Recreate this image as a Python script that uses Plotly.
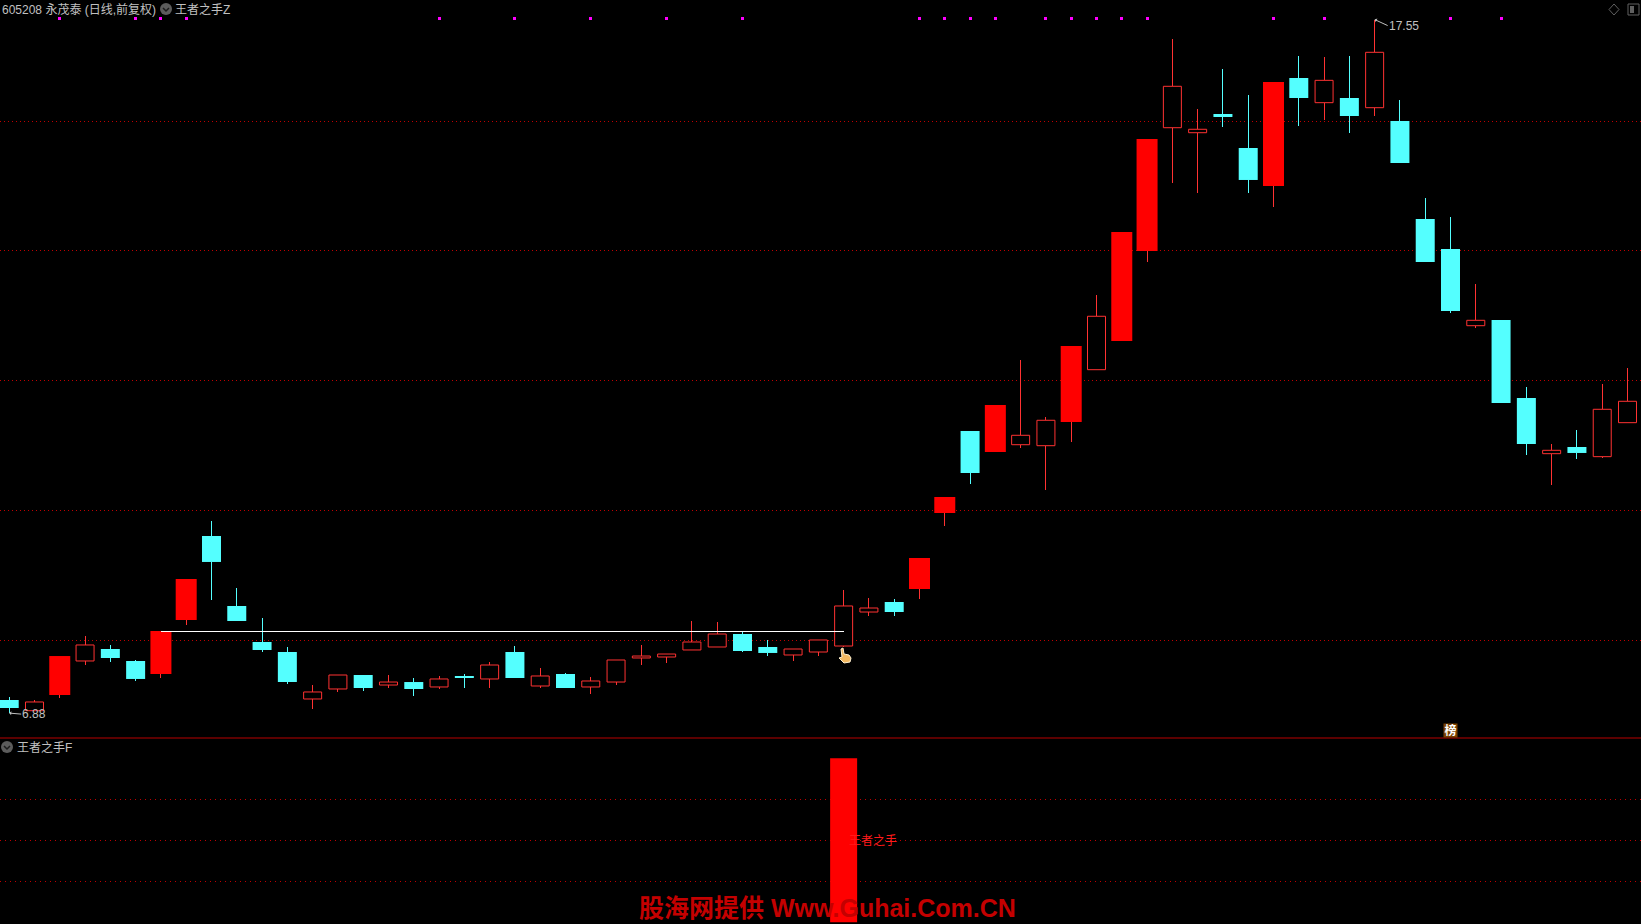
import plotly.graph_objects as go

# ---------- data ----------
opens = [7.082,6.917,7.158,7.682,7.866,7.682,7.482,8.312,9.605,8.528,
         7.974,7.820,7.097,7.251,7.466,7.312,7.358,7.282,7.451,7.405,
         7.820,7.297,7.482,7.282,7.358,7.728,7.743,7.851,7.897,8.097,
         7.897,7.774,7.820,7.912,8.435,8.589,8.789,9.958,11.220,10.897,
         11.009,10.994,11.358,12.163,12.605,13.989,15.886,15.809,16.097,15.574,
         14.989,16.651,16.271,16.343,16.194,15.989,14.482,14.020,12.840,12.928,
         11.728,10.871,10.974,10.825,11.348]
closes = [6.958,7.051,7.758,7.928,7.728,7.405,8.143,8.943,9.205,8.297,
          7.851,7.358,7.205,7.466,7.266,7.358,7.251,7.405,7.435,7.620,
          7.420,7.451,7.266,7.374,7.697,7.758,7.789,7.974,8.097,7.835,
          7.805,7.866,8.005,8.528,8.497,8.435,9.266,10.205,10.574,11.620,
          11.154,11.385,12.528,12.985,14.282,15.712,16.523,15.862,16.051,15.082,
          16.589,16.343,16.615,16.066,17.046,15.343,13.820,13.066,12.923,11.651,
          11.020,10.923,10.882,11.554,11.677]
highs = [7.128,7.082,7.758,8.066,7.928,7.697,8.143,8.943,9.835,8.805,
         8.343,7.897,7.312,7.466,7.466,7.466,7.420,7.451,7.482,7.666,
         7.912,7.574,7.497,7.435,7.697,7.928,7.789,8.297,8.282,8.143,
         8.005,7.866,8.005,8.774,8.651,8.635,9.266,10.205,11.220,11.620,
         12.312,11.435,12.528,13.312,14.282,15.712,17.251,16.174,16.789,16.389,
         16.589,16.989,16.974,16.989,17.550,16.312,14.805,14.512,13.482,12.928,
         11.897,11.020,11.235,11.943,12.189]
lows = [6.880,6.912,7.112,7.620,7.666,7.374,7.420,8.235,8.620,8.297,
        7.820,7.328,6.943,7.205,7.220,7.266,7.143,7.251,7.266,7.266,
        7.420,7.266,7.266,7.174,7.312,7.620,7.651,7.851,7.897,7.820,
        7.758,7.682,7.758,7.897,8.374,8.374,8.635,9.758,10.405,10.897,
        10.963,10.312,11.051,12.158,12.605,13.820,15.035,14.882,15.897,14.882,
        14.666,15.912,16.005,15.805,16.066,15.343,13.820,13.035,12.805,11.651,
        10.851,10.389,10.789,10.805,11.348]
filled_red_days = [2,6,7,36,37,39,42,44,45,50]
signal_days = [2,5,6,7,17,20,23,26,29,36,37,38,39,41,42,43,44,45,50,52,57,59]
signal_level = 17.57
resistance_days = [6,33]
resistance_level = 8.138
indicator_day = [33]
indicator_value = [100]
price_ticks = [8,10,12,14,15.985]
indicator_ticks = [25,50,75]
high_label, low_label = "17.55", "6.88"

# ---------- styling ----------
W, H = 1641, 924
SPLIT = 738
STEP = 25.286
RED, HOLLOW, CYAN = "#ff0000", "#ff3232", "#54ffff"
GRID = "#c00000"
GRAY = "#c0c0c0"
FONT = "Liberation Sans, Noto Sans CJK SC, sans-serif"
days = list(range(len(opens)))
px = lambda x: x / W
py = lambda y: 1 - y / H

groups = {"cyan": [], "filled": [], "hollow": []}
for d in days:
    if closes[d] < opens[d]:
        groups["cyan"].append(d)
    elif d in filled_red_days:
        groups["filled"].append(d)
    else:
        groups["hollow"].append(d)

def body(idx, fill, width, line_color=None):
    return go.Bar(
        x=idx,
        y=[abs(closes[d] - opens[d]) for d in idx],
        base=[min(opens[d], closes[d]) for d in idx],
        width=width / STEP,
        marker=dict(color=fill, line=dict(color=line_color or fill, width=1 if line_color else 0)),
        xaxis="x", yaxis="y", showlegend=False, hoverinfo="skip",
    )

def wicks(idx, color):
    xs, ys = [], []
    for d in idx:
        top, bot = max(opens[d], closes[d]), min(opens[d], closes[d])
        xs += [d, d, None, d, d, None]
        ys += [highs[d], top, None, bot, lows[d], None]
    return go.Scatter(x=xs, y=ys, mode="lines", line=dict(color=color, width=1),
                      xaxis="x", yaxis="y", showlegend=False, hoverinfo="skip")

fig = go.Figure()
fig.add_trace(body(groups["cyan"], CYAN, 19))
fig.add_trace(body(groups["filled"], RED, 21))
fig.add_trace(body(groups["hollow"], "#000000", 18, HOLLOW))
fig.add_trace(wicks(groups["cyan"], CYAN))
fig.add_trace(wicks(groups["filled"] + groups["hollow"], HOLLOW))
fig.add_trace(go.Scatter(x=resistance_days, y=[resistance_level] * 2, mode="lines",
                         line=dict(color="#ffffff", width=1), showlegend=False, hoverinfo="skip"))
fig.add_trace(go.Scatter(x=signal_days, y=[signal_level] * len(signal_days), mode="markers",
                         marker=dict(color="#ff00ff", size=3, symbol="square", line=dict(width=0)),
                         showlegend=False, hoverinfo="skip"))
fig.add_trace(go.Bar(x=indicator_day, y=indicator_value, width=27 / STEP,
                     marker=dict(color=RED, line=dict(width=0)),
                     xaxis="x2", yaxis="y2", showlegend=False, hoverinfo="skip"))

def label(x, y, text, color=GRAY, size=12, anchor="left", **kw):
    return dict(x=px(x), y=py(y), xref="paper", yref="paper", text=text, showarrow=False,
                xanchor=anchor, yanchor="middle", font=dict(family=FONT, size=size, color=color),
                borderpad=0, borderwidth=0, **kw)

def chevron(cx, cy):
    return [
        dict(type="circle", xref="paper", yref="paper", x0=px(cx - 6), x1=px(cx + 6),
             y0=py(cy + 6), y1=py(cy - 6), fillcolor="#5c5c5c", line=dict(width=0)),
        dict(type="path", xref="paper", yref="paper", line=dict(color="#1c1c1c", width=1.5),
             path=f"M{px(cx-3)} {py(cy-1)} L{px(cx)} {py(cy+2)} L{px(cx+3)} {py(cy-1)}"),
    ]

def poly(points):
    return "M" + " L".join(f"{px(x)} {py(y)}" for x, y in points) + " Z"

shapes = [
    dict(type="line", xref="paper", yref="paper", x0=0, x1=1, y0=py(SPLIT), y1=py(SPLIT),
         line=dict(color="#b80000", width=1)),
    *chevron(166, 9),
    *chevron(7, 747),
    dict(type="path", xref="paper", yref="paper", line=dict(color="#606060", width=1),
         path=poly([(1614, 4), (1619, 9.5), (1614, 15), (1609, 9.5)])),
    dict(type="rect", xref="paper", yref="paper", x0=px(1628), x1=px(1639), y0=py(15), y1=py(4),
         line=dict(color="#606060", width=1)),
    dict(type="rect", xref="paper", yref="paper", x0=px(1630), x1=px(1634), y0=py(13), y1=py(6),
         fillcolor="#606060", line=dict(width=0)),
    dict(type="path", xref="paper", yref="paper", fillcolor="#f4b860", line=dict(color="#fff0d0", width=1),
         path=poly([(841, 649), (843, 648), (844, 654), (849, 655), (851, 658), (850, 662),
                    (844, 663), (839, 658), (842, 657)])),
]

annotations = [
    label(2, 9.5, "605208 永茂泰 (日线,前复权)"),
    label(175, 9.5, "王者之手Z"),
    label(16.5, 747.5, "王者之手F"),
    label(849, 840.5, "王者之手", color="#ff1a1a"),
    dict(x=0, y=lows[0], xref="x", yref="y", text=low_label, showarrow=True, ax=12, ay=1,
         arrowhead=1, arrowsize=0.7, arrowwidth=1, arrowcolor=GRAY, xanchor="left", standoff=0,
         font=dict(family=FONT, size=12, color=GRAY), borderpad=0),
    dict(x=highs.index(max(highs)), y=max(highs), xref="x", yref="y", text=high_label, showarrow=True,
         ax=13, ay=6, arrowhead=1, arrowsize=0.7, arrowwidth=1, arrowcolor=GRAY, xanchor="left",
         standoff=0, font=dict(family=FONT, size=12, color=GRAY), borderpad=0),
    dict(x=signal_days[-2], y=py(730.5), xref="x", yref="paper", text="<b>榜</b>", showarrow=False,
         font=dict(family=FONT, size=12, color="#ffffff"), bgcolor="#7a4000", borderpad=0,
         xanchor="center", yanchor="middle", width=13, height=13),
    label(827, 908, "<b>股海网提供 Www.Guhai.Com.CN</b>", color="#c40000", size=25, anchor="center"),
]

x_range = [-9.2 / STEP, (W - 9.2) / STEP]
axis_off = dict(showticklabels=False, ticks="", zeroline=False, showline=False)
fig.update_layout(
    width=W, height=H, margin=dict(l=0, r=0, t=0, b=0, pad=0),
    paper_bgcolor="#000000", plot_bgcolor="#000000",
    barmode="overlay", hovermode=False, showlegend=False,
    xaxis=dict(domain=[0, 1], range=x_range, showgrid=False, **axis_off),
    xaxis2=dict(domain=[0, 1], range=x_range, showgrid=False, anchor="y2", **axis_off),
    yaxis=dict(domain=[py(SPLIT), 1], range=[8 - 97.7 / 65, 8 + 640.3 / 65], tickvals=price_ticks,
               showgrid=True, gridcolor=GRID, gridwidth=1, griddash="1px,3px", **axis_off),
    yaxis2=dict(domain=[0, py(SPLIT)], range=[-1, 112.4], tickvals=indicator_ticks, anchor="x2",
                showgrid=True, gridcolor=GRID, gridwidth=1, griddash="1px,4px", **axis_off),
    shapes=shapes, annotations=annotations,
)

post = """
document.body.style.margin='0';
document.body.style.background='#000';
document.body.style.overflow='hidden';
var s=document.createElement('style');
s.textContent='.scatterlayer path{shape-rendering:crispEdges}';
document.head.appendChild(s);
"""
fig.write_html("out.html", post_script=post, config={"displayModeBar": False})
